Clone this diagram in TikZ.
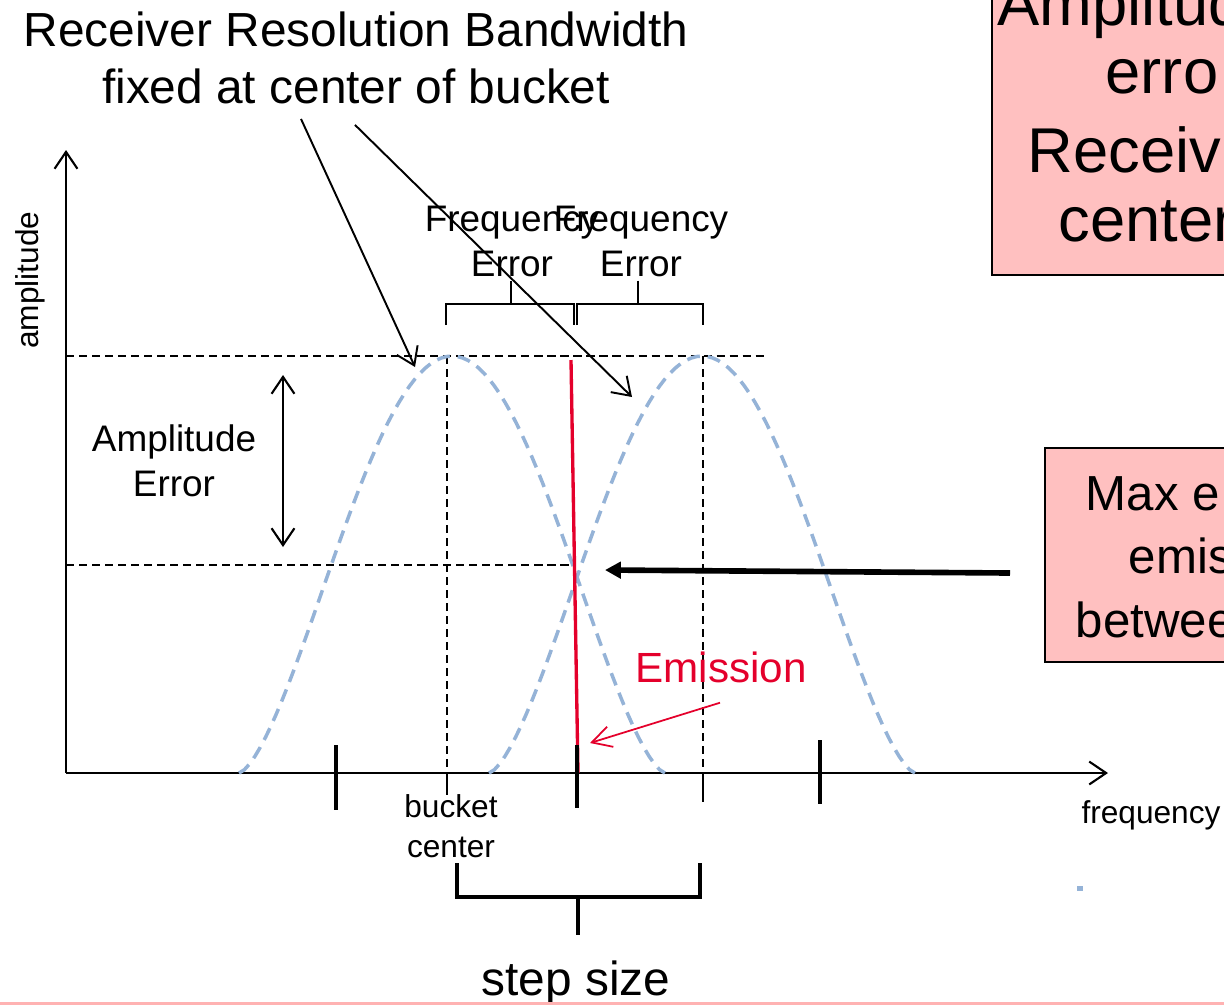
\documentclass[tikz,border=0pt]{standalone}
\usepackage{fontspec}
\setmainfont{Liberation Sans}
\usetikzlibrary{arrows.meta}
\definecolor{boxpink}{RGB}{255,192,192}
\definecolor{curveblue}{RGB}{149,179,215}
\definecolor{emired}{RGB}{228,0,43}

\begin{document}
\begin{tikzpicture}[x=0.01cm, y=-0.01cm,
    axisline/.style={line width=0.6pt, -{Straight Barb[length=4.8pt,width=6.5pt]}},
    barb/.style={line width=0.55pt, -{Straight Barb[length=4.8pt,width=6.5pt]}},
    dbarb/.style={line width=0.6pt, {Straight Barb[length=4.8pt,width=6.5pt]}-{Straight Barb[length=4.8pt,width=6.5pt]}},
    bigarr/.style={line width=1.6pt, -{Triangle[length=4.5pt,width=4.6pt]}},
    guide/.style={line width=0.45pt, dash pattern=on 2.3pt off 1.4pt},
    bell/.style={curveblue, line width=1pt, dash pattern=on 3.7pt off 2.3pt},
    tickmark/.style={line width=1.2pt},
    brk/.style={line width=0.45pt},
    stepbrk/.style={line width=1.15pt},
    pinkbox/.style={draw, fill=boxpink, line width=0.45pt},
    txt/.style={inner sep=1pt, align=center, font=\fontsize{10.5}{12.8}\selectfont},
    small/.style={inner sep=1pt, align=center, font=\fontsize{9}{11.4}\selectfont},
    big/.style={inner sep=1pt, align=center, font=\fontsize{13.6}{16}\selectfont},
    boxtxt/.style={inner sep=0pt, anchor=base west, font=\fontsize{18}{21}\selectfont},
    boxtxtb/.style={inner sep=0pt, anchor=base west, font=\fontsize{14}{18}\selectfont}
  ]
   \useasboundingbox (0,0) rectangle (1224,1005);

   % 右側の枠
   \draw[pinkbox] (992,-10) rectangle (1240,275);
   \node[boxtxt] (boxa1) at (997,25) {Amplitud};
   \node[boxtxt] (boxa2) at (1105,93) {erro};
   \node[boxtxt] (boxa3) at (1027,172) {Receiv};
   \node[boxtxt] (boxa4) at (1058,241) {center};

   \draw[pinkbox] (1045,448) rectangle (1240,662);
   \node[boxtxtb] (boxb1) at (1085,510) {Max e};
   \node[boxtxtb] (boxb2) at (1128,573) {emis};
   \node[boxtxtb] (boxb3) at (1075,637) {betwee};

   % 軸
   \coordinate (O) at (66,773);
   \draw[axisline] (O) -- (66,150);
   \draw[axisline] (O) -- (1108,773);
   \node[small, rotate=90] (amp) at (30,280) {amplitude};
   \node[small] (freq) at (1151,815) {frequency};

   % 補助線
   \draw[guide] (66,356) -- (765,356);
   \draw[guide] (66,565) -- (575,565);
   \draw[guide] (447,356) -- (447,773);
   \draw[guide] (703,356) -- (703,773);
   \draw[brk] (447,773) -- (447,795);
   \draw[brk] (703,773) -- (703,802);

   % 受信帯域
   \foreach \cx in {452,702}
      \draw[bell] plot[domain=-1:1, samples=81]
         ({\cx+213*\x}, {773-417*cos(90*\x)*sqrt(abs(cos(90*\x)))});

   % 放射
   \draw[emired, line width=0.95pt] (571,360) -- (578,773);
   \node[inner sep=1pt, emired, font=\fontsize{12}{14}\selectfont] (emis) at (721,667) {Emission};
   \coordinate (emTip) at (590,743);
   \draw[emired, line width=0.5pt, -{Straight Barb[length=5.5pt,width=6pt]}] (emis.south) ++(-1,16) -- (emTip);

   % 目盛
   \foreach \tx/\ta/\tb in {336/745/810, 577/745/808, 820/740/804}
      \draw[tickmark] (\tx,\ta) -- (\tx,\tb);
   \node[small] (bucket) at (451,826) {bucket\\center};

   % 周波数誤差
   \coordinate (brkA) at (511,304);
   \coordinate (brkB) at (638,304);
   \draw[brk] (446,325) |- (574,304) -- (574,325);
   \draw[brk] (577,325) |- (703,304) -- (703,325);
   \node[txt] (fe1) at (512,241) {Frequency\\Error};
   \node[txt] (fe2) at (641,241) {Frequency\\Error};
   \draw[brk] (fe1.south -| brkA) -- (brkA);
   \draw[brk] (fe2.south -| brkB) -- (brkB);

   % 題
   \node[big] (rbw) at (356,58) {Receiver Resolution Bandwidth\\fixed at center of bucket};
   \coordinate (pkA) at (415,367);
   \coordinate (pkB) at (632,397);
   \draw[barb] (rbw.south) ++(-55,11) -- (pkA);
   \draw[barb] (rbw.south) ++(-1,17) -- (pkB);

   % 振幅誤差
   \node[txt] (ae) at (174,461) {Amplitude\\Error};
   \coordinate (aeTop) at (283,375);
   \coordinate (aeBot) at (283,547);
   \draw[dbarb] (aeTop) -- (aeBot);

   % 最大誤差
   \coordinate (maxTail) at (1010,573);
   \coordinate (maxTip) at (605,570);
   \draw[bigarr] (maxTail) -- (maxTip);

   % ステップ幅
   \coordinate (stepMid) at (578,897);
   \draw[stepbrk] (457,863) |- (700,897) -- (700,863);
   \draw[stepbrk] (stepMid) -- ++(0,38);
   \node[big] (step) at (576,983) {step size};

   \fill[curveblue] (1077,886) rectangle (1083,891);
   \fill[red!30] (0,1002) rectangle (1224,1005);

\end{tikzpicture}
\end{document}
